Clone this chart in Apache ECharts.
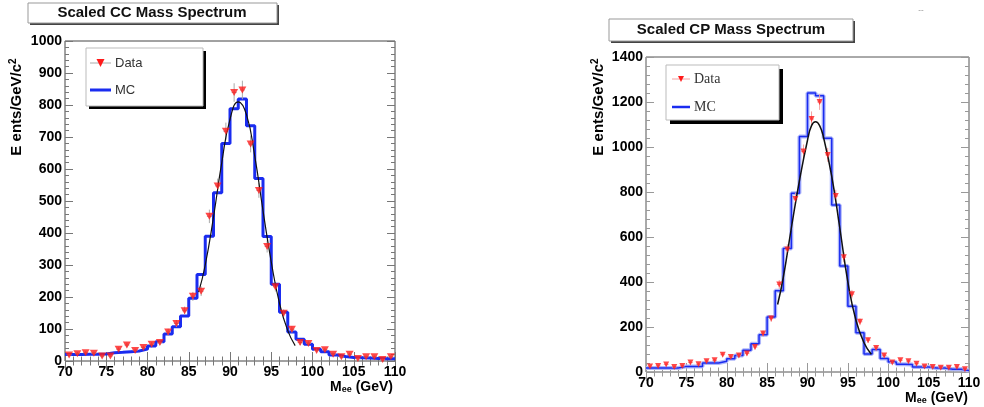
<!DOCTYPE html>
<html>
<head>
<meta charset="utf-8">
<script src="https://cdn.jsdelivr.net/npm/echarts@6/dist/echarts.min.js"></script>
<style>
html,body{margin:0;padding:0;background:#fff;}
#c{width:984px;height:407px;}
</style>
</head>
<body>
<div id="c"></div>
<script>
// ---------- data ----------
const binCenters = [70.5,71.5,72.5,73.5,74.5,75.5,76.5,77.5,78.5,79.5,80.5,81.5,82.5,83.5,84.5,85.5,86.5,87.5,88.5,89.5,90.5,91.5,92.5,93.5,94.5,95.5,96.5,97.5,98.5,99.5,100.5,101.5,102.5,103.5,104.5,105.5,106.5,107.5,108.5,109.5];
const xTicks = [70,75,80,85,90,95,100,105,110];

// CC panel
const ccMC   = [20,20,21,21,22,26,27,29,31,37,47,60,84,107,141,196,270,390,526,680,788,819,735,570,389,240,152,91,68,52,37,29,19,14,11,10,9,8,7,7];
const ccData = [19,23,26,24,16,16,37,50,33,42,52,58,91,117,157,202,218,452,547,718,839,847,678,533,358,232,149,99,58,55,33,35,21,13,21,8,13,13,5,13];
const ccErr  = [4,5,5,5,4,4,6,7,6,6,7,8,10,11,13,14,15,21,23,27,29,29,26,23,19,15,12,10,8,7,6,6,5,4,5,3,4,4,2,4];
const ccFitX = [86.2,87,88,89,90,91,92,93,94,95,96,97,97.9];
const ccFitY = [215,300,450,620,755,810,770,640,470,310,180,95,48];

// CP panel
const cpMC   = [18,18,18,18,25,25,25,40,40,48,59,73,97,126,166,245,361,549,794,1047,1240,1228,1039,742,471,292,174,80,100,60,45,34,33,22,22,18,18,12,12,7];
const cpData = [25,27,33,22,27,42,34,48,52,77,67,73,82,111,171,238,389,545,769,980,1124,1200,965,782,510,346,223,141,107,73,42,52,48,37,25,22,19,19,22,12];
const cpErr  = [5,5,6,5,5,6,6,7,7,9,8,9,9,11,13,15,20,23,28,31,34,35,31,28,23,19,15,12,10,9,6,7,7,6,5,5,4,4,5,3];
const cpFitX = [86.3,87,88,89,90,90.5,91,91.5,92,93,94,95,96,97,97.9];
const cpFitY = [300,420,640,850,1030,1095,1112,1095,1040,870,640,400,230,130,79];

// ---------- helpers ----------
const FONT = 'Liberation Sans, Arial, Helvetica, sans-serif';
function stepPoints(vals){
  const pts = binCenters.map((c,i)=>[c-0.5, vals[i]]);
  const last = binCenters.length-1;
  pts.push([binCenters[last]+0.5, vals[last]]);
  return pts;
}
function pairs(xs, ys){ return xs.map((x,i)=>[x, ys[i]]); }
function errData(vals, errs){ return binCenters.map((c,i)=>[c, vals[i], errs[i]]); }
const plain = v => String(v);

function xAxisPair(gridIndex, tickColor){
  const base = {
    type:'value', gridIndex, min:70, max:110, interval:5,
    axisLine:{show:false}, splitLine:{show:false},
    axisTick:{show:true, inside:true, length:9, lineStyle:{color:tickColor, width:1}},
    minorTick:{show:true, splitNumber:5, length:4.5, lineStyle:{color:tickColor, width:1}},
    minorSplitLine:{show:false}
  };
  return [
    Object.assign({}, base, {position:'bottom', axisLabel:{show:true, margin:4, fontFamily:FONT, fontWeight:'bold', fontSize:14, color:'#000', formatter:plain}}),
    Object.assign({}, base, {position:'top', axisLabel:{show:false}})
  ];
}
function yAxisPair(gridIndex, max, interval, tickColor){
  const base = {
    type:'value', gridIndex, min:0, max, interval,
    axisLine:{show:false}, splitLine:{show:false},
    axisTick:{show:true, inside:true, length:8, lineStyle:{color:tickColor, width:1}},
    minorTick:{show:true, splitNumber:5, length:4, lineStyle:{color:tickColor, width:1}},
    minorSplitLine:{show:false}
  };
  return [
    Object.assign({}, base, {position:'left', axisLabel:{show:true, margin:3, fontFamily:FONT, fontWeight:'bold', fontSize:14, color:'#000', formatter:plain}}),
    Object.assign({}, base, {position:'right', axisLabel:{show:false}})
  ];
}
function errSeries(xi, yi, data, color){
  return {
    type:'custom', xAxisIndex:xi, yAxisIndex:yi, data, clip:true, z:3,
    encode:{x:0, y:1},
    renderItem:function(params, api){
      const x=api.value(0), y=api.value(1), e=api.value(2);
      const p1=api.coord([x, y-e]), p2=api.coord([x, y+e]);
      const h1=api.coord([x-0.3, y]), h2=api.coord([x+0.3, y]);
      return {type:'group', children:[
        {type:'line', shape:{x1:p1[0],y1:p1[1],x2:p2[0],y2:p2[1]}, style:{stroke:color, lineWidth:1}},
        {type:'line', shape:{x1:h1[0],y1:h1[1],x2:h2[0],y2:h2[1]}, style:{stroke:color, lineWidth:1}}
      ]};
    }
  };
}

const chart = echarts.init(document.getElementById('c'), null, {renderer:'canvas'});

const xA = xAxisPair(0,'#777').concat(xAxisPair(1,'#999'));
const yA = yAxisPair(0,1000,100,'#777').concat(yAxisPair(1,1400,200,'#999'));

function titleBox(x,y,w,h,text,cx,cy){
  return [
    {type:'rect', shape:{x:x+2,y:y+2,width:w,height:h}, style:{fill:'#444'}, z:10},
    {type:'rect', shape:{x:x,y:y,width:w,height:h}, style:{fill:'#fff', stroke:'#999', lineWidth:1}, z:11},
    {type:'text', x:cx, y:cy, style:{text:text, fontFamily:FONT, fontWeight:'bold', fontSize:15, fill:'#111', align:'center', verticalAlign:'middle'}, z:12}
  ];
}
function legendBox(x,y,w,h,sh,dataY,mcY,lx1,lx2,tx,font,fs,errColor,mcW,triSize){
  const mid=(lx1+lx2)/2;
  return [
    {type:'rect', shape:{x:x+sh,y:y+sh,width:w,height:h}, style:{fill:'#000'}, z:10},
    {type:'rect', shape:{x:x,y:y,width:w,height:h}, style:{fill:'#fff', stroke:'#bbb', lineWidth:1}, z:11},
    {type:'line', shape:{x1:lx1,y1:dataY,x2:lx2,y2:dataY}, style:{stroke:errColor, lineWidth:1}, z:12},
    {type:'polygon', shape:{points:[[mid-triSize/2,dataY-triSize/2],[mid+triSize/2,dataY-triSize/2],[mid,dataY+triSize/2]]}, style:{fill:'#ff1a1a'}, z:13},
    {type:'text', x:tx, y:dataY, style:{text:'Data', fontFamily:font, fontSize:fs, fill:'#333', verticalAlign:'middle'}, z:12},
    {type:'line', shape:{x1:lx1,y1:mcY,x2:lx2,y2:mcY}, style:{stroke:'#1a2cf0', lineWidth:mcW}, z:12},
    {type:'text', x:tx, y:mcY, style:{text:'MC', fontFamily:font, fontSize:fs, fill:'#333', verticalAlign:'middle'}, z:12}
  ];
}
function yTitle(x,y){
  return {type:'text', x:x, y:y, rotation:Math.PI/2, z:12,
    style:{text:'{a|E ents/GeV/c}{s|2}', align:'center', verticalAlign:'middle',
      rich:{a:{fontFamily:FONT, fontWeight:'bold', fontSize:15, fill:'#000'},
            s:{fontFamily:FONT, fontWeight:'bold', fontSize:10, fill:'#000', padding:[0,0,8,0]}}}};
}
function xTitle(x,y){
  return {type:'text', x:x, y:y, z:12,
    style:{text:'{a|M}{s|ee}{a| (GeV)}', align:'right', verticalAlign:'middle',
      rich:{a:{fontFamily:FONT, fontWeight:'bold', fontSize:14, fill:'#000'},
            s:{fontFamily:FONT, fontWeight:'bold', fontSize:9, fill:'#000', padding:[6,0,0,0]}}}};
}

const graphics = [].concat(
  titleBox(28,3,249,20,'Scaled CC Mass Spectrum',152,13),
  titleBox(609,19,244,22,'Scaled CP Mass Spectrum',731,30),
  legendBox(86,48,117,58,3,63,90,90,111,115,FONT,13,'#aaa',3,8),
  legendBox(666,65,113,55,4,79,107,672,690,694,'Liberation Serif, Times New Roman, serif',14,'#f2a0a0',2.5,6),
  [yTitle(17,107), yTitle(599,107), xTitle(393,387), xTitle(968,398),
   {type:'text', x:921, y:10, style:{text:'--', fontFamily:FONT, fontSize:8, fill:'#888', align:'center', verticalAlign:'middle'}}]
);

const option = {
  animation:false,
  backgroundColor:'#fff',
  grid:[
    {left:65, top:41, width:330, height:320, show:true, borderColor:'#444', borderWidth:1, backgroundColor:'#fff', containLabel:false},
    {left:646, top:57, width:323, height:315, show:true, borderColor:'#555', borderWidth:1, backgroundColor:'#fff', containLabel:false}
  ],
  xAxis: xA,
  yAxis: yA,
  series:[
    // CC panel
    {name:'MC', type:'line', xAxisIndex:0, yAxisIndex:0, data:stepPoints(ccMC), step:'end', showSymbol:false, symbol:'none',
      lineStyle:{color:'#1a2cf0', width:3}, z:2},
    {name:'fit', type:'line', xAxisIndex:0, yAxisIndex:0, data:pairs(ccFitX, ccFitY), smooth:0.5, showSymbol:false, symbol:'none',
      lineStyle:{color:'#111', width:1.2}, z:4},
    errSeries(0,0,errData(ccData, ccErr),'#aaa'),
    {name:'Data', type:'scatter', xAxisIndex:0, yAxisIndex:0, data:pairs(binCenters, ccData), symbol:'triangle', symbolRotate:180, symbolSize:[8,7],
      itemStyle:{color:'#ff1a1a'}, z:5},
    // CP panel
    {name:'MC band', type:'line', xAxisIndex:2, yAxisIndex:2, data:stepPoints(cpMC), step:'end', showSymbol:false, symbol:'none',
      lineStyle:{color:'#aeb6fa', width:4}, z:1},
    {name:'MC', type:'line', xAxisIndex:2, yAxisIndex:2, data:stepPoints(cpMC), step:'end', showSymbol:false, symbol:'none',
      lineStyle:{color:'#1a2cf0', width:1.5}, z:2},
    {name:'fit', type:'line', xAxisIndex:2, yAxisIndex:2, data:pairs(cpFitX, cpFitY), smooth:0.5, showSymbol:false, symbol:'none',
      lineStyle:{color:'#111', width:1.5}, z:4},
    errSeries(2,2,errData(cpData, cpErr),'#f2a0a0'),
    {name:'Data', type:'scatter', xAxisIndex:2, yAxisIndex:2, data:pairs(binCenters, cpData), symbol:'triangle', symbolRotate:180, symbolSize:[6,6],
      itemStyle:{color:'#ff1a1a'}, z:5}
  ],
  graphic: graphics
};
chart.setOption(option);
</script>
</body>
</html>
